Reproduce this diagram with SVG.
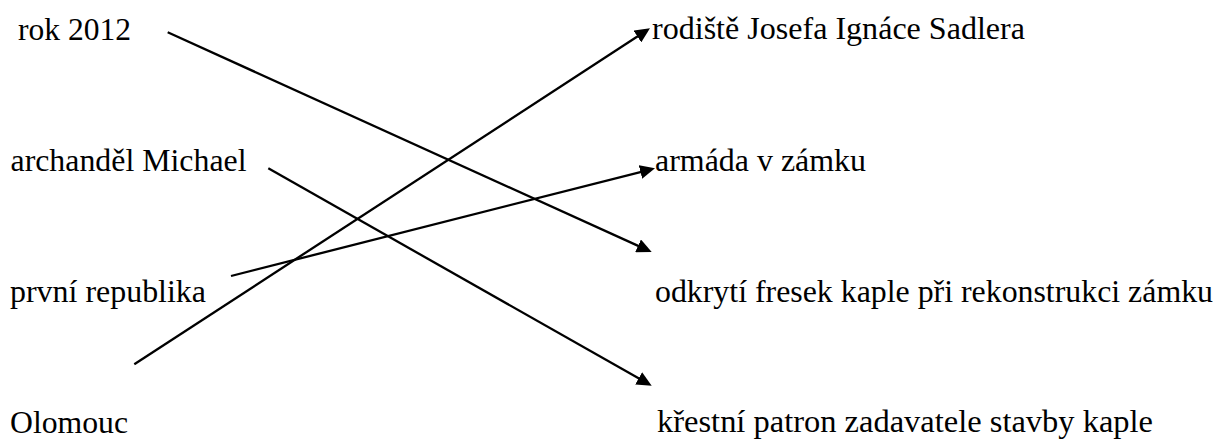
<svg xmlns="http://www.w3.org/2000/svg" width="1219" height="441" viewBox="0 0 1219 441">
<style>
.t{fill:#000}
.c{stroke:#000;stroke-width:2.3;fill:none}
</style>
<defs>
<marker id="ah" markerUnits="userSpaceOnUse" markerWidth="15" markerHeight="14" refX="5" refY="7" orient="auto">
<path d="M0,0 L15,7 L0,14 z" fill="#000"/>
</marker>
</defs>
<rect width="1219" height="441" fill="#fff"/>
<g font-family="Liberation Serif, Times New Roman, serif" font-size="31.5">
<g id="n-rok"><text class="t" x="18" y="39.5" textLength="113" lengthAdjust="spacingAndGlyphs">rok 2012</text></g>
<g id="n-archandel"><text class="t" x="10.5" y="171" textLength="236" lengthAdjust="spacingAndGlyphs">archanděl Michael</text></g>
<g id="n-republika"><text class="t" x="10" y="302" textLength="196" lengthAdjust="spacingAndGlyphs">první republika</text></g>
<g id="n-olomouc"><text class="t" x="10" y="432.5" textLength="118" lengthAdjust="spacingAndGlyphs">Olomouc</text></g>
</g>
<g font-family="Liberation Serif, Times New Roman, serif" font-size="32">
<g id="n-rodiste"><text class="t" x="652" y="39" textLength="373" lengthAdjust="spacingAndGlyphs">rodiště Josefa Ignáce Sadlera</text></g>
<g id="n-armada"><text class="t" x="655" y="171" textLength="211" lengthAdjust="spacingAndGlyphs">armáda v zámku</text></g>
<g id="n-odkryti"><text class="t" x="655" y="302" textLength="558" lengthAdjust="spacingAndGlyphs">odkrytí fresek kaple při rekonstrukci zámku</text></g>
<g id="n-krestni"><text class="t" x="657" y="432" textLength="496" lengthAdjust="spacingAndGlyphs">křestní patron zadavatele stavby kaple</text></g>
</g>
<g id="connectors">
<line class="c" x1="167.7" y1="32.3" x2="642.6" y2="247.9" marker-end="url(#ah)"/>
<line class="c" x1="268.3" y1="168.3" x2="643" y2="380.8" marker-end="url(#ah)"/>
<line class="c" x1="231" y1="276" x2="645.3" y2="170.8" marker-end="url(#ah)"/>
<line class="c" x1="134.3" y1="364.3" x2="641.6" y2="33.8" marker-end="url(#ah)"/>
</g>
</svg>
